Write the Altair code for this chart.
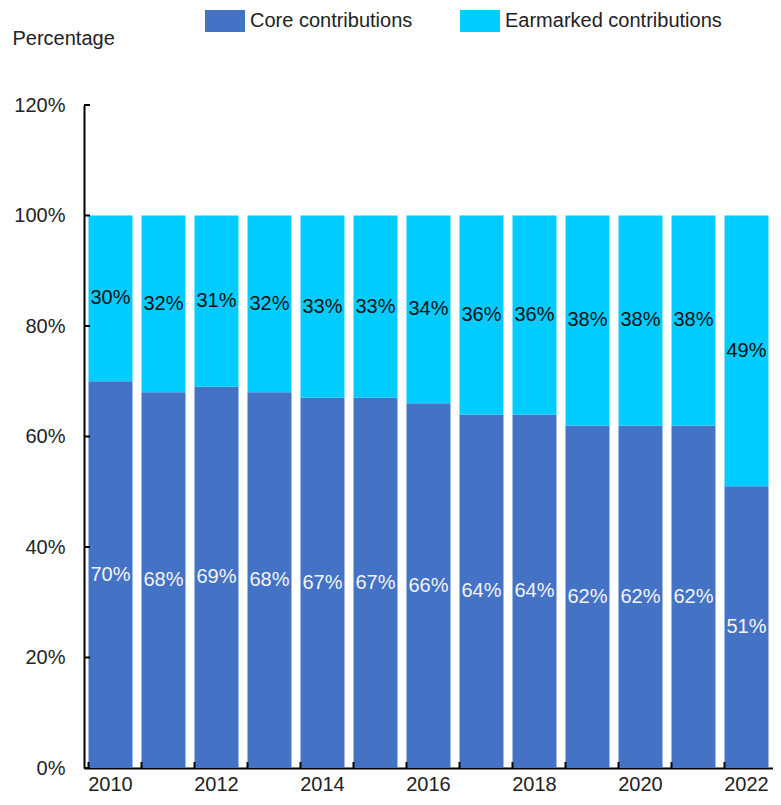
import altair as alt
import pandas as pd

years = [str(y) for y in range(2010, 2023)]
core = [70, 68, 69, 68, 67, 67, 66, 64, 64, 62, 62, 62, 51]
earmarked = [30, 32, 31, 32, 33, 33, 34, 36, 36, 38, 38, 38, 49]
series_names = ["Core contributions", "Earmarked contributions"]
series_colors = ["#4472C4", "#00CCFF"]
y_ticks = [0, 20, 40, 60, 80, 100, 120]

rows = []
for i, yr in enumerate(years):
    rows.append({"year": yr, "series": series_names[0], "ord": 0, "value": core[i]})
    rows.append({"year": yr, "series": series_names[1], "ord": 1, "value": earmarked[i]})
df = pd.DataFrame(rows)

FONT = "Liberation Sans"
FS = 20
W, H = 689, 663
TXT = "#222222"

xscale = alt.Scale(paddingInner=0.17, paddingOuter=0.085)
yscale = alt.Scale(domain=[0, 120], nice=False)

x_axis = alt.Axis(
    ticks=False, domainColor="black", domainWidth=2, labelAngle=0,
    labelExpr="toNumber(datum.value) % 2 == 0 ? datum.label : ''",
    labelPadding=6, labelFont=FONT, labelFontSize=FS, labelColor=TXT,
    labelFlush=False, labelOverlap=False, title=None)
y_axis = alt.Axis(
    values=y_ticks, labelExpr="datum.value + '%'", ticks=False, grid=False,
    domainColor="black", domainWidth=2, labelFont=FONT, labelFontSize=FS,
    labelColor=TXT, labelPadding=19, title="Percentage", titleAngle=0,
    titleAlign="left", titleBaseline="middle", titleX=-72, titleY=-67,
    titleFont=FONT, titleFontSize=FS, titleFontWeight="normal", titleColor=TXT)

base = alt.Chart(df).transform_stack(
    stack="value", groupby=["year"], as_=["y0", "y1"],
    sort=[alt.SortField("ord", order="ascending")]
).transform_calculate(
    mid="(datum.y0 + datum.y1) / 2", label="datum.value + '%'"
)

bars = base.mark_bar().encode(
    x=alt.X("year:N", scale=xscale, axis=x_axis),
    y=alt.Y("y0:Q", scale=yscale, axis=y_axis),
    y2="y1:Q",
    color=alt.Color("series:N", scale=alt.Scale(domain=series_names, range=series_colors),
        legend=alt.Legend(orient="none", legendX=121, legendY=-104, direction="horizontal",
            title=None, symbolType="M-1,-0.55L1,-0.55L1,0.55L-1,0.55Z", symbolSize=1600,
            symbolStrokeWidth=0, symbolOpacity=1, labelFont=FONT, labelFontSize=FS,
            labelColor=TXT, labelOffset=5, columnPadding=47, padding=0, labelLimit=400)),
    order=alt.Order("ord:Q"),
)

core_text = base.transform_filter("datum.ord == 0").mark_text(
    font=FONT, fontSize=FS, color="#F4F4F4", align="center", baseline="middle"
).encode(x=alt.X("year:N", scale=xscale, axis=x_axis),
         y=alt.Y("mid:Q", scale=yscale, axis=y_axis), text="label:N")

earm_text = base.transform_filter("datum.ord == 1").mark_text(
    font=FONT, fontSize=FS, color="#111111", align="center", baseline="middle"
).encode(x=alt.X("year:N", scale=xscale, axis=x_axis),
         y=alt.Y("mid:Q", scale=yscale, axis=y_axis), text="label:N")

yticks = alt.Chart(pd.DataFrame({"v": y_ticks})).mark_rule(color="black", strokeWidth=2).encode(
    y=alt.Y("v:Q", scale=yscale, axis=y_axis), x=alt.value(0), x2=alt.value(6))

xticks = alt.Chart(pd.DataFrame({"year": years})).mark_rule(color="black", strokeWidth=2).encode(
    x=alt.X("year:N", bandPosition=0, scale=xscale, axis=x_axis),
    y=alt.value(H), y2=alt.value(H - 6))

chart = alt.layer(bars, core_text, earm_text, yticks, xticks).properties(
    width=W, height=H,
    background="white",
    autosize=alt.AutoSizeParams(type="none"),
    padding={"left": 76, "top": 97, "right": 0, "bottom": 30},
).configure_view(strokeWidth=0)

chart.save("out.html", embed_options={"renderer": "svg", "actions": False})
